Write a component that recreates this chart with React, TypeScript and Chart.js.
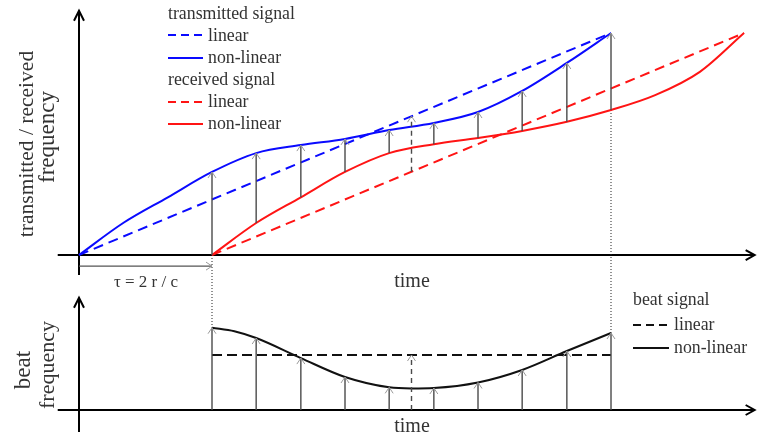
import React, { useEffect, useRef } from 'react';
import { Chart, registerables } from 'chart.js';

Chart.register(...registerables);

// ---- data (time in arbitrary units, frequency in arbitrary units) ----
const TIME_TX = [0, 0.83, 1.67, 2.5, 3.33, 4.17, 5.0, 5.83, 6.67, 7.5, 8.33, 9.17, 10];
const FREQ_TX = [0, 1.44, 2.6, 3.74, 4.59, 4.95, 5.23, 5.63, 5.95, 6.44, 7.39, 8.65, 10];
const TIME_RX = [2.5, 3.33, 4.17, 5.0, 5.83, 6.67, 7.5, 8.33, 9.17, 10, 10.83, 11.67, 12.5];
const FREQ_RX = [0, 1.44, 2.6, 3.74, 4.59, 4.99, 5.27, 5.59, 6.0, 6.53, 7.2, 8.25, 10];
const TIME_TX_LIN = [0, 10];
const FREQ_TX_LIN = [0, 10];
const TIME_RX_LIN = [2.5, 12.5];
const FREQ_RX_LIN = [0, 10];
const TIME_BEAT = [2.5, 2.92, 3.33, 4.17, 5.0, 5.83, 6.25, 6.67, 7.5, 8.33, 9.17, 10];
const FREQ_BEAT = [3.74, 3.58, 3.27, 2.36, 1.5, 1.03, 0.98, 1.0, 1.25, 1.82, 2.68, 3.5];
const TIME_BEAT_LIN = [2.5, 10];
const FREQ_BEAT_LIN = [2.5, 2.5];
const ARROW_TIMES = [2.5, 3.33, 4.17, 5.0, 5.83, 6.67, 7.5, 8.33, 9.17, 10];
const MID_TIME = 6.25;
const TAU = 2.5;
const T_END = 10;

// axis extents (data units)
const AXIS_T = [-0.4, 12.7];
const AXIS_TOP_F = [-0.9, 11.0];
const AXIS_BOT_F = [-1.0, 5.1];
const TAU_ARROW_F = -0.5;

const BLUE = '#0a0aff';
const RED = '#ff1414';
const TEXT = '#333333';
const FONT = '"Liberation Serif", "Times New Roman", serif';

const zip = (xs: number[], ys: number[]) => xs.map((x, i) => ({ x, y: ys[i] }));

function valueAt(xs: number[], ys: number[], t: number): number {
  if (t <= xs[0]) return ys[0];
  for (let i = 1; i < xs.length; i++) {
    if (t <= xs[i]) {
      const f = (t - xs[i - 1]) / (xs[i] - xs[i - 1]);
      return ys[i - 1] + f * (ys[i] - ys[i - 1]);
    }
  }
  return ys[ys.length - 1];
}

function head(ctx: CanvasRenderingContext2D, x: number, y: number, dir: 'up' | 'right', len: number, half: number) {
  ctx.beginPath();
  if (dir === 'up') {
    ctx.moveTo(x - half, y + len);
    ctx.lineTo(x, y);
    ctx.lineTo(x + half, y + len);
  } else {
    ctx.moveTo(x - len, y - half);
    ctx.lineTo(x, y);
    ctx.lineTo(x - len, y + half);
  }
  ctx.stroke();
}

function seg(ctx: CanvasRenderingContext2D, x1: number, y1: number, x2: number, y2: number) {
  ctx.beginPath();
  ctx.moveTo(x1, y1);
  ctx.lineTo(x2, y2);
  ctx.stroke();
}

function thinArrow(ctx: CanvasRenderingContext2D, x: number, yFrom: number, yTo: number, dashed: boolean) {
  ctx.save();
  ctx.strokeStyle = '#4a4a4a';
  ctx.lineWidth = 1.4;
  if (dashed) ctx.setLineDash([5, 4]);
  seg(ctx, x, yFrom, x, yTo);
  ctx.setLineDash([]);
  ctx.strokeStyle = '#9a9a9a';
  ctx.lineWidth = 1;
  head(ctx, x, yTo, 'up', 6, 4);
  ctx.restore();
}

const overlay = {
  id: 'overlay',
  beforeDatasetsDraw(chart: any) {
    const { ctx } = chart;
    const { x, y, y2 } = chart.scales;
    ctx.save();
    ctx.strokeStyle = '#000';
    ctx.lineWidth = 2;
    // top axes
    seg(ctx, x.getPixelForValue(AXIS_T[0]), y.getPixelForValue(0), x.getPixelForValue(AXIS_T[1]), y.getPixelForValue(0));
    head(ctx, x.getPixelForValue(AXIS_T[1]), y.getPixelForValue(0), 'right', 9, 5);
    seg(ctx, x.getPixelForValue(0), y.getPixelForValue(AXIS_TOP_F[0]), x.getPixelForValue(0), y.getPixelForValue(AXIS_TOP_F[1]));
    head(ctx, x.getPixelForValue(0), y.getPixelForValue(AXIS_TOP_F[1]), 'up', 10, 5);
    // bottom axes
    seg(ctx, x.getPixelForValue(AXIS_T[0]), y2.getPixelForValue(0), x.getPixelForValue(AXIS_T[1]), y2.getPixelForValue(0));
    head(ctx, x.getPixelForValue(AXIS_T[1]), y2.getPixelForValue(0), 'right', 9, 5);
    seg(ctx, x.getPixelForValue(0), y2.getPixelForValue(AXIS_BOT_F[0]), x.getPixelForValue(0), y2.getPixelForValue(AXIS_BOT_F[1]));
    head(ctx, x.getPixelForValue(0), y2.getPixelForValue(AXIS_BOT_F[1]), 'up', 10, 5);

    // dotted guides
    ctx.strokeStyle = '#222';
    ctx.lineWidth = 1;
    ctx.setLineDash([1, 2]);
    seg(ctx, x.getPixelForValue(TAU), y.getPixelForValue(0), x.getPixelForValue(TAU), y2.getPixelForValue(valueAt(TIME_BEAT, FREQ_BEAT, TAU)));
    seg(ctx, x.getPixelForValue(T_END), y.getPixelForValue(valueAt(TIME_RX, FREQ_RX, T_END)), x.getPixelForValue(T_END), y2.getPixelForValue(valueAt(TIME_BEAT, FREQ_BEAT, T_END)));
    ctx.setLineDash([]);

    // tau arrow
    ctx.strokeStyle = '#555';
    ctx.lineWidth = 1.3;
    seg(ctx, x.getPixelForValue(0), y.getPixelForValue(TAU_ARROW_F), x.getPixelForValue(TAU), y.getPixelForValue(TAU_ARROW_F));
    ctx.strokeStyle = '#9a9a9a';
    ctx.lineWidth = 1;
    head(ctx, x.getPixelForValue(TAU), y.getPixelForValue(TAU_ARROW_F), 'right', 6, 4);
    ctx.restore();
  },
  afterDatasetsDraw(chart: any) {
    const { ctx } = chart;
    const { x, y, y2 } = chart.scales;
    // arrows between received and transmitted, and beat arrows
    ARROW_TIMES.forEach((t) => {
      const px = x.getPixelForValue(t);
      const lo = t <= TAU ? 0 : valueAt(TIME_RX, FREQ_RX, t);
      const hi = valueAt(TIME_TX, FREQ_TX, t);
      thinArrow(ctx, px, y.getPixelForValue(lo), y.getPixelForValue(hi), false);
      thinArrow(ctx, px, y2.getPixelForValue(0), y2.getPixelForValue(valueAt(TIME_BEAT, FREQ_BEAT, t)), false);
    });
    const mx = x.getPixelForValue(MID_TIME);
    thinArrow(ctx, mx, y.getPixelForValue(valueAt(TIME_RX_LIN, FREQ_RX_LIN, MID_TIME)), y.getPixelForValue(valueAt(TIME_TX_LIN, FREQ_TX_LIN, MID_TIME)), true);
    thinArrow(ctx, mx, y2.getPixelForValue(0), y2.getPixelForValue(valueAt(TIME_BEAT_LIN, FREQ_BEAT_LIN, MID_TIME)), true);

    // texts
    ctx.save();
    ctx.fillStyle = TEXT;
    ctx.textBaseline = 'alphabetic';
    ctx.textAlign = 'center';
    ctx.font = `20px ${FONT}`;
    ctx.fillText('time', 412, 287);
    ctx.fillText('time', 412, 432);
    ctx.font = `17px ${FONT}`;
    ctx.fillText('τ = 2 r / c', 146, 287);

    const vtext = (s: string, bx: number, cy: number, size: number) => {
      ctx.save();
      ctx.translate(bx, cy);
      ctx.rotate(-Math.PI / 2);
      ctx.font = `${size}px ${FONT}`;
      ctx.textAlign = 'center';
      ctx.fillText(s, 0, 0);
      ctx.restore();
    };
    vtext('transmitted / received', 33, 144, 21.5);
    vtext('frequency', 54, 137, 23);
    vtext('beat', 30, 370, 23);
    vtext('frequency', 54, 365, 22);

    // legends
    ctx.textAlign = 'left';
    ctx.textBaseline = 'middle';
    ctx.font = `17.8px ${FONT}`;
    const sample = (x1: number, x2: number, yy: number, color: string, dashed: boolean) => {
      ctx.save();
      ctx.strokeStyle = color;
      ctx.lineWidth = 2;
      if (dashed) ctx.setLineDash([8, 5]);
      seg(ctx, x1, yy, x2, yy);
      ctx.restore();
    };
    ctx.fillText('transmitted signal', 168, 14);
    sample(168, 203, 35, BLUE, true);
    ctx.fillText('linear', 208, 36);
    sample(168, 203, 58, BLUE, false);
    ctx.fillText('non-linear', 208, 58);
    ctx.fillText('received signal', 168, 80);
    sample(168, 203, 102, RED, true);
    ctx.fillText('linear', 208, 102);
    sample(168, 203, 124, RED, false);
    ctx.fillText('non-linear', 208, 124);

    ctx.fillText('beat signal', 633, 300);
    sample(633, 669, 325, '#111', true);
    ctx.fillText('linear', 674, 325);
    sample(633, 669, 348, '#111', false);
    ctx.fillText('non-linear', 674, 348);
    ctx.restore();
  },
};

export default function App() {
  const ref = useRef<HTMLCanvasElement | null>(null);
  useEffect(() => {
    if (!ref.current) return;
    const line = (data: { x: number; y: number }[], color: string, dash: number[], axis: string, width = 2) => ({
      data,
      borderColor: color,
      borderWidth: width,
      borderDash: dash,
      pointRadius: 0,
      fill: false,
      cubicInterpolationMode: 'monotone' as const,
      yAxisID: axis,
    });
    const chart = new Chart(ref.current, {
      type: 'line',
      data: {
        datasets: [
          line(zip(TIME_TX_LIN, FREQ_TX_LIN), BLUE, [10, 6], 'y'),
          line(zip(TIME_RX_LIN, FREQ_RX_LIN), RED, [10, 6], 'y'),
          line(zip(TIME_TX, FREQ_TX), BLUE, [], 'y'),
          line(zip(TIME_RX, FREQ_RX), RED, [], 'y'),
          line(zip(TIME_BEAT_LIN, FREQ_BEAT_LIN), '#111', [10, 5], 'y2'),
          line(zip(TIME_BEAT, FREQ_BEAT), '#111', [], 'y2'),
        ] as any,
      },
      options: {
        animation: false,
        responsive: false,
        events: [],
        layout: { padding: 0 },
        plugins: { legend: { display: false }, tooltip: { enabled: false } },
        scales: {
          x: { type: 'linear', min: -1.485, max: 12.763, display: false },
          y: { type: 'linear', min: -8.468, max: 11.486, display: false },
          y2: { type: 'linear', min: -1.5, max: 18.636, display: false, position: 'left' },
        },
      },
      plugins: [overlay as any],
    });
    return () => chart.destroy();
  }, []);
  return (
    <div style={{ position: 'absolute', left: 0, top: 0, width: 758, height: 443, background: '#fff' }}>
      <canvas ref={ref} width={758} height={443} style={{ display: 'block' }} />
    </div>
  );
}
